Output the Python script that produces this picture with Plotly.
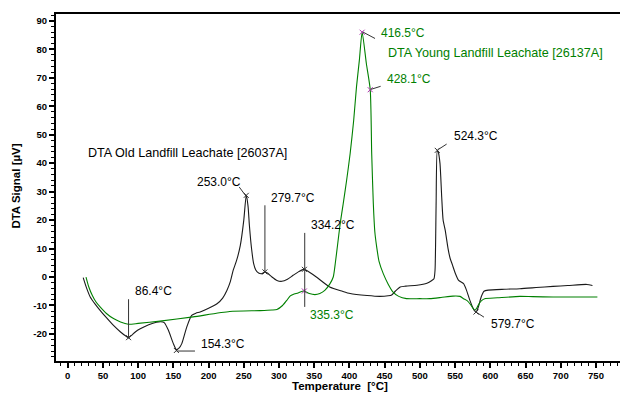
import plotly.graph_objects as go

# ---------------- data ----------------
old_T = [22, 27, 32, 39, 46, 55, 65, 75, 84, 86.4, 90, 96, 103, 115, 126, 132, 137, 143, 150, 154.3, 158, 162,
         169, 176, 182, 188, 200, 212, 220, 226, 231, 235, 240, 245, 250, 253.5, 256, 258, 261, 264, 267, 271,
         276, 280, 284, 290, 297, 304, 312, 320, 328, 335, 340, 353, 372, 390, 401, 425, 443, 455, 460, 465,
         472, 480, 496, 510, 517, 520, 521.5, 523, 524.7, 526, 528.5, 531, 533, 536, 540, 543, 546, 550, 555,
         562, 566, 571, 576, 579.7, 583, 587, 591, 597, 620, 642, 665, 689, 710, 737, 745]
old_S = [-0.2, -4, -7, -9.5, -11.7, -14.3, -17, -19.3, -21, -21.3, -20.6, -19.3, -18.2, -16.8, -15.9, -15.7, -16,
         -18.7, -23.4, -25.5, -25, -23.4, -17.6, -13.5, -12.7, -12.3, -11, -9.4, -7.4, -4.7, -1.5, 2.4, 6, 11, 20,
         28.7, 25, 18, 10, 4.7, 2.5, 1.4, 1.2, 1.8, 1.3, 0, -1.2, -1.5, -0.8, 0.6, 1.9, 2.7, 2.2, 0, -3.5, -5.0,
         -5.8, -6.5, -6.8, -6.6, -6.3, -5, -3.5, -3.2, -2.9, -2.2, -1.2, -0.6, 2.4, 25, 44.5, 44, 40, 28, 20,
         16.4, 10, 6.5, 4.4, 1.5, -1.2, -2.3, -4.5, -8.2, -11.2, -12.3, -10.5, -7.0, -5.0, -4.6, -4.3, -4.1,
         -3.7, -3.3, -3.0, -2.6, -3.0]

young_T = [26, 30, 35, 40, 46, 55, 65, 75, 86, 100, 131, 178, 230, 273, 290, 297, 305, 311, 316, 320, 327,
           335.3, 343, 351, 358, 365, 372, 377, 380, 383, 387, 391, 396, 401, 406, 410, 414, 418, 424, 429.5,
           431.6, 433.9, 436, 438.7, 442, 448, 455, 462, 470, 481, 500, 514, 530, 547, 557, 562, 567, 571, 575,
           578, 581, 584, 588, 592, 610, 642, 660, 689, 720, 752]
young_S = [0, -3.5, -6.5, -8.7, -10.5, -12.8, -14.6, -15.8, -16.6, -16.3, -15.5, -14, -12.1, -11.8, -11.6,
           -11.4, -10, -8.2, -6.6, -6.1, -5.6, -4.9, -5.8, -6.2, -5.8, -4.7, -2.5, 0, 5, 11, 19, 25.5, 34, 43.4,
           55, 66.8, 76, 86, 75, 65.8, 43.4, 25.8, 16, 10.5, 5.5, 1.2, -2.5, -5.3, -6.8, -7.6, -7.6, -7.6, -7.2,
           -6.7, -6.8, -7.6, -8.3, -9.4, -10.8, -11.7, -10.8, -9.4, -8.2, -7.6, -7.3, -6.8, -6.9, -7.0, -7.0,
           -7.0]

# peak / event labels
old_labels = ["86.4°C", "154.3°C", "253.0°C", "279.7°C", "334.2°C", "524.3°C", "579.7°C"]
old_label_x = [92.3, 186.4, 180.7, 285.8, 342.6, 545.6, 598.1]
old_label_y = [-5.0, -23.7, 33.4, 27.9, 18.2, 49.5, -16.4]
old_event_T = [86.4, 154.3, 253.5, 280, 336, 524.7, 579.7]
old_event_S = [-21.3, -25.8, 28.7, 1.8, 2.7, 44.5, -12.3]

young_labels = ["416.5°C", "428.1°C", "335.3°C"]
young_label_x = [442.0, 450.9, 341.6]
young_label_y = [85.9, 69.5, -13.5]
young_event_T = [418, 429.5, 336]
young_event_S = [86, 65.8, -4.9]

old_name = "DTA Old Landfill Leachate [26037A]"
young_name = "DTA Young Landfill Leachate [26137A]"

x_ticks = list(range(0, 800, 50))
y_ticks = [-20, -10, 0, 10, 20, 30, 40, 50, 60, 70, 80, 90]
y_tick_text = ["-20", "-10", "0", "10", "20", "30", "40", "50", "60", "70", "80", "90"]

BLACK = "#1a1a1a"
GREEN = "#008000"

fig = go.Figure()
fig.add_trace(go.Scatter(x=old_T, y=old_S, mode="lines",
                         line=dict(color=BLACK, width=1.1, shape="spline", smoothing=0.6),
                         showlegend=False, hoverinfo="skip"))
fig.add_trace(go.Scatter(x=young_T, y=young_S, mode="lines",
                         line=dict(color=GREEN, width=1.1, shape="spline", smoothing=0.6),
                         showlegend=False, hoverinfo="skip"))

shapes = []
def seg(x0, y0, x1, y1, color="#333333"):
    shapes.append(dict(type="line", x0=x0, y0=y0, x1=x1, y1=y1, xref="x", yref="y",
                       line=dict(color=color, width=1)))

seg(86.4, -7.8, 86.4, -21.6)
seg(154.7, -26, 180.7, -26)
seg(243.6, 31.6, 254.1, 28.1)
seg(280, 25.2, 280, 1.8)
seg(336.5, 15.5, 336.5, -10.5)
seg(418.8, 86.1, 436.3, 83.8)
seg(430.2, 65.9, 444.3, 67.0)
seg(526.1, 44.8, 538.0, 46.7)
seg(579.7, -12.3, 591.0, -14.1)

fig.add_trace(go.Scatter(x=old_event_T, y=old_event_S, mode="markers",
                         marker=dict(symbol="x-thin-open", size=5, color="#333333",
                                     line=dict(width=1, color="#333333")),
                         showlegend=False, hoverinfo="skip"))
fig.add_trace(go.Scatter(x=young_event_T, y=young_event_S, mode="markers",
                         marker=dict(symbol="x-thin-open", size=5, color="#b030b0",
                                     line=dict(width=1, color="#b030b0")),
                         showlegend=False, hoverinfo="skip"))

ann = []
numfont = dict(family="Liberation Sans, Arial, sans-serif", size=12)
namefont = dict(family="Liberation Sans, Arial, sans-serif", size=12.6)
for t, x, y in zip(old_labels, old_label_x, old_label_y):
    ann.append(dict(x=x, y=y, text=t, showarrow=False, xanchor="left", yanchor="middle",
                    font=dict(color="#000000", **numfont)))
for t, x, y in zip(young_labels, young_label_x, young_label_y):
    ann.append(dict(x=x, y=y, text=t, showarrow=False, xanchor="left", yanchor="middle",
                    font=dict(color=GREEN, **numfont)))
ann.append(dict(x=26, y=43.4, text=old_name, showarrow=False, xanchor="left", yanchor="middle",
                font=dict(color="#000000", **namefont)))
ann.append(dict(x=451.9, y=78.6, text=young_name, showarrow=False, xanchor="left", yanchor="middle",
                font=dict(color=GREEN, **namefont)))

titlefont = dict(family="Liberation Sans, Arial, sans-serif", size=11.5, color="#000000", weight="bold")
ann.append(dict(xref="paper", yref="paper", x=0.504, y=0, yshift=-25, text="Temperature&nbsp;&nbsp;[°C]",
                showarrow=False, xanchor="center", yanchor="middle", font=titlefont))
ann.append(dict(xref="paper", yref="paper", x=0, xshift=-39.5, y=0.504, text="DTA Signal [µV]",
                textangle=-90, showarrow=False, xanchor="center", yanchor="middle", font=titlefont))

tickfont = dict(family="Liberation Sans, Arial, sans-serif", size=9.5, color="#000000", weight="bold")

fig.update_layout(
    width=620, height=394,
    margin=dict(l=56, r=0, t=14, b=33),
    paper_bgcolor="white", plot_bgcolor="white",
    shapes=shapes, annotations=ann,
    xaxis=dict(range=[-16.6, 784.1], tickvals=x_ticks, ticks="outside", ticklen=5, tickwidth=1.5,
               tickcolor="#000", showgrid=False, zeroline=False, showline=True, linecolor="#000",
               linewidth=2, mirror=True, tickfont=tickfont,
               minor=dict(dtick=10, tick0=0, ticks="outside", ticklen=3, tickcolor="#000", tickwidth=1.2)),
    yaxis=dict(range=[-29.5, 92.4], tickvals=y_ticks, ticktext=y_tick_text, ticks="outside", ticklen=5,
               tickwidth=1.5, tickcolor="#000", showgrid=False, zeroline=False, showline=True,
               linecolor="#000", linewidth=2, tickfont=tickfont,
               minor=dict(dtick=2, tick0=0, ticks="outside", ticklen=3, tickcolor="#000", tickwidth=1.2)),
)

fig.write_html("out.html")
